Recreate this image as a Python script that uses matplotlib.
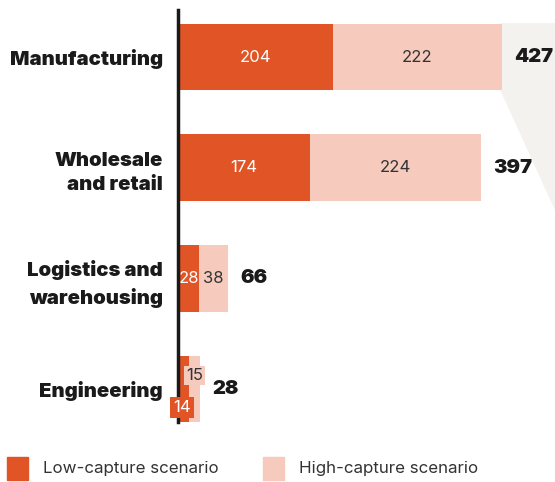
import matplotlib.pyplot as plt
from matplotlib.patches import Polygon, Rectangle

# data
categories = ["Manufacturing", "Wholesale\nand retail", "Logistics and\nwarehousing", "Engineering"]
low = [204, 174, 28, 14]
high = [222, 224, 38, 15]
totals = [427, 397, 66, 28]

c_low = '#e05426'
c_high = '#f6cabd'
c_gray = '#f3f2ef'

plt.rcParams['font.family'] = ['Inter', 'DejaVu Sans']

fig = plt.figure(figsize=(5.55, 4.82), dpi=100)
ax = fig.add_axes([178 / 555, 1 - 422 / 482, 377 / 555, 412 / 482])

y = list(range(len(categories)))
ax.barh(y, low, height=0.6, color=c_low, zorder=2)
ax.barh(y, high, left=low, height=0.6, color=c_high, zorder=2)

ax.set_xlim(0, 496)
ax.set_ylim(3.298, -0.425)

# grey callout shape behind the top bars
poly = Polygon([(425, -0.3), (500, -0.3), (500, 1.43), (425, 0.3)],
               closed=True, color=c_gray, zorder=0, clip_on=False)
ax.add_patch(poly)

for i in range(len(categories)):
    lo, hi = low[i], high[i]
    if i < 3:
        ax.text(lo / 2, i, str(lo), ha='center', va='center', color='white',
                fontsize=12, zorder=3)
        ax.text(lo + hi / 2, i, str(hi), ha='center', va='center', color='#333333',
                fontsize=12, zorder=3)
    else:
        # small bar: labels boxed and nudged
        ax.annotate(str(hi), (lo + hi / 2, i), xytext=(0, 10), textcoords='offset points',
                    ha='center', va='center', color='#333333', fontsize=12,
                    bbox=dict(boxstyle='square,pad=0.12', fc=c_high, ec='none'), zorder=3)
        ax.annotate(str(lo), (lo / 2, i), xytext=(-1, -13), textcoords='offset points',
                    ha='center', va='center', color='white', fontsize=12,
                    bbox=dict(boxstyle='square,pad=0.18', fc=c_low, ec='none'), zorder=4,
                    annotation_clip=False)
    ax.annotate(str(totals[i]), (lo + hi, i), xytext=(9, 0), textcoords='offset points',
                ha='left', va='center', color='#1a1a1a', fontsize=14.5, fontweight='black',
                zorder=3, annotation_clip=False)

ax.set_yticks(y)
ax.set_yticklabels(categories, fontsize=14.6, fontweight='black', color='#1a1a1a',
                   linespacing=1.45, ha='right')
ax.tick_params(axis='y', length=0, pad=11)
ax.set_xticks([])
for s in ['top', 'right', 'bottom']:
    ax.spines[s].set_visible(False)
ax.spines['left'].set_linewidth(2.5)
ax.spines['left'].set_color('#1a1a1a')
ax.spines['left'].set_zorder(3)
ax.set_facecolor('none')

# legend
fig.patches.append(Rectangle((7 / 555, 1 - 480 / 482), 21 / 555, 23 / 482,
                             transform=fig.transFigure, color=c_low))
fig.patches.append(Rectangle((263 / 555, 1 - 480 / 482), 21 / 555, 23 / 482,
                             transform=fig.transFigure, color=c_high))
fig.text(43 / 555, 1 - 468 / 482, "Low-capture scenario", fontsize=12.2, color='#333333',
         va='center', ha='left')
fig.text(299 / 555, 1 - 468 / 482, "High-capture scenario", fontsize=12.2, color='#333333',
         va='center', ha='left')

fig.savefig('out.png', dpi=100)
